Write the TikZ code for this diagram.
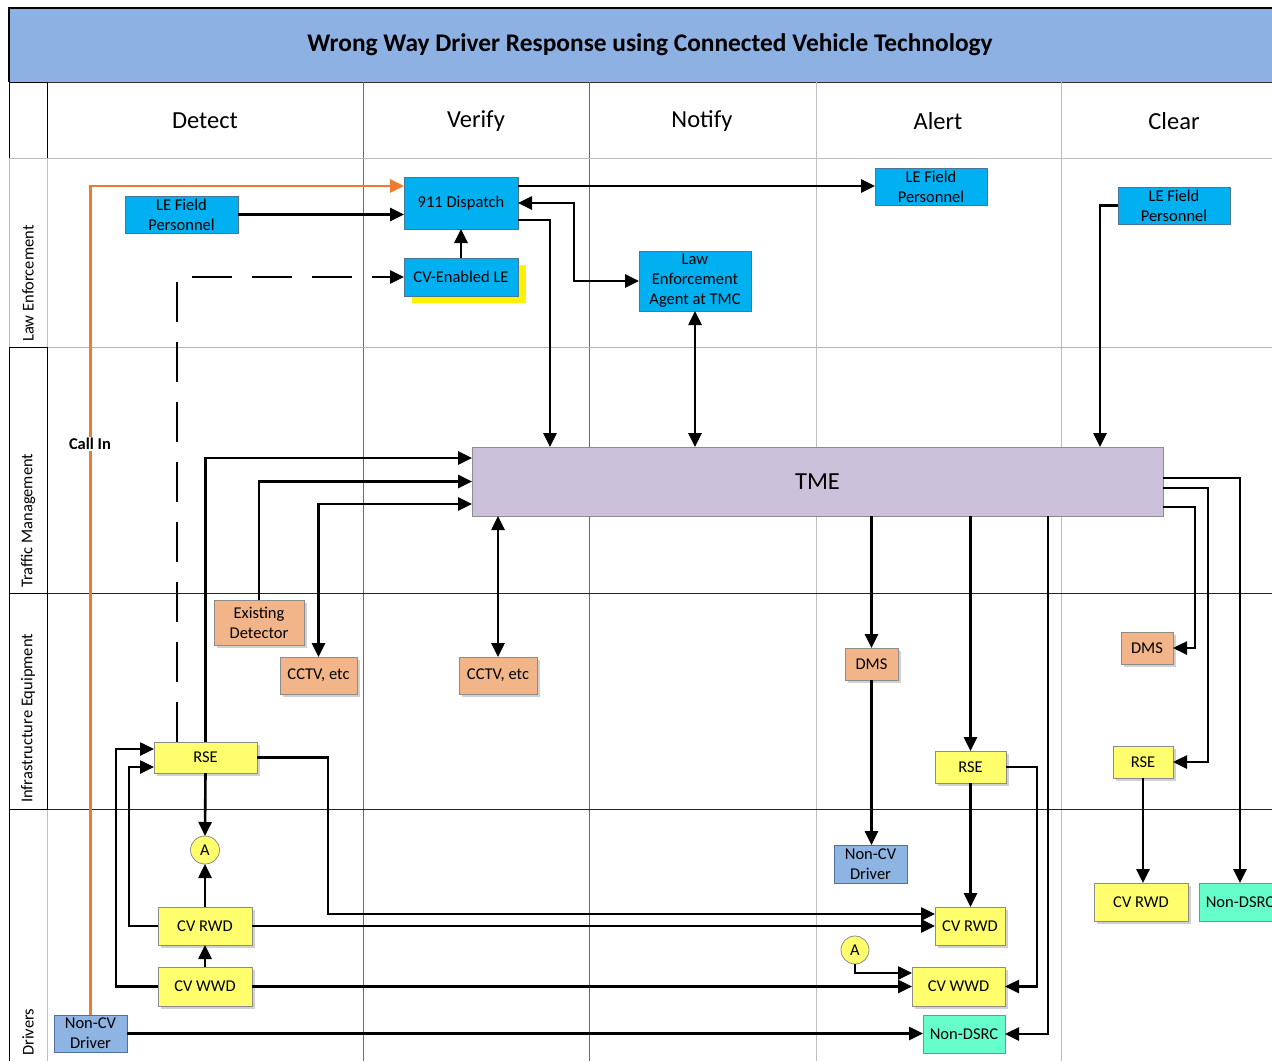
\documentclass[tikz,border=0pt]{standalone}
\usepackage{fontspec}
\setmainfont{Carlito}
\usetikzlibrary{arrows.meta,calc,shadows,shapes.geometric}

\definecolor{titleblue}{HTML}{8EB1E4}
\definecolor{lecyan}{HTML}{00B0F0}
\definecolor{leline}{HTML}{4A7696}
\definecolor{peach}{HTML}{F2B58A}
\definecolor{rseyellow}{HTML}{FFFF6E}
\definecolor{drvblue}{HTML}{8DB4E2}
\definecolor{drvline}{HTML}{4F6F9F}
\definecolor{aqua}{HTML}{66FFCC}
\definecolor{tmefill}{HTML}{CCC1DA}
\definecolor{callorange}{HTML}{EC7C30}
\definecolor{boxline}{HTML}{8C8C8C}
\definecolor{lightrule}{HTML}{BDBDBD}
\definecolor{darkrule}{HTML}{6A6A6A}
\definecolor{bluerule}{HTML}{A9B9CF}

\newcommand{\boxtext}{\fontsize{16.5pt}{20pt}\selectfont}
\newcommand{\headtext}{\fontsize{24.5pt}{29pt}\selectfont}

\begin{document}
\begin{tikzpicture}[x=1pt, y=-1pt,
  box/.style={draw=boxline, line width=0.8pt, inner sep=0pt, outer sep=0pt,
              align=center, font=\boxtext, text=black},
  boxshade/.style={drop shadow={shadow xshift=2.5pt, shadow yshift=-2.5pt,
              fill=black, opacity=.18}},
  lebox/.style={box, fill=lecyan, draw=leline},
  eqbox/.style={box, fill=peach, boxshade},
  ylbox/.style={box, fill=rseyellow, boxshade},
  drvbox/.style={box, fill=drvblue, draw=drvline},
  dsrcbox/.style={box, fill=aqua},
  offpage/.style={box, ellipse, fill=rseyellow},
  lanelabel/.style={rotate=90, anchor=west, inner sep=0pt, font=\boxtext},
  head/.style={font=\headtext},
  flow/.style={line width=2.6pt, -{Triangle[length=14pt,width=13pt]}},
  flow2/.style={line width=2.6pt,
              {Triangle[length=14pt,width=13pt]}-{Triangle[length=14pt,width=13pt]}},
]
\useasboundingbox (0,0) rectangle (1272,1061);
\clip (0,0) rectangle (1272,1061);

% ---------- swimlane frame ----------
\fill[titleblue] (9,8) rectangle (1290,82);
\draw[line width=1.3pt] (1290,8) -- (9,8) -- (9,82);
\draw[line width=1pt, black!80] (9,82) -- (1290,82);
\node[font=\bfseries\fontsize{25.4pt}{30pt}\selectfont] (title) at (650,45)
  {Wrong Way Driver Response using Connected Vehicle Technology};

% phase columns
\draw[lightrule, line width=0.9pt] (47,82) -- (47,1061);
\draw[darkrule, line width=0.9pt] (363,82) -- (363,1061);
\draw[darkrule, line width=0.9pt] (589,82) -- (589,1061);
\draw[lightrule, line width=0.9pt] (816,82) -- (816,1061);
\draw[lightrule, line width=0.9pt] (1061,82) -- (1061,1061);

% lane separators
\draw[lightrule, line width=0.9pt] (9,158) -- (1272,158);
\draw[bluerule, line width=0.9pt] (47,347) -- (1272,347);
\draw[black!85, line width=1pt] (9,593) -- (1272,593);
\draw[black!85, line width=1pt] (9,809) -- (1272,809);

% lane label cells
\draw[black, line width=1pt] (9,82) rectangle (47,158);
\draw[lightrule, line width=0.9pt] (9,158) rectangle (47,347);
\draw[black, line width=1pt] (9,347) rectangle (47,593);
\draw[black, line width=1pt] (9,593) rectangle (47,809);
\draw[black, line width=1pt] (9,809) -- (9,1061);

\node[lanelabel] (laneLE) at (28,342) {Law Enforcement};
\node[lanelabel] (laneTM) at (28,588) {Traffic Management};
\node[lanelabel] (laneIE) at (28,803) {Infrastructure Equipment};
\node[lanelabel] (laneDR) at (28,1056) {Drivers};

% phase headers
\node[head] (hDetect) at (205,121) {Detect};
\node[head] (hVerify) at (476,121) {Verify};
\node[head] (hNotify) at (702,121) {Notify};
\node[head] (hAlert)  at (938,121) {Alert};
\node[head] (hClear)  at (1174,121) {Clear};

% ---------- law enforcement ----------
\node[lebox, minimum width=113, minimum height=37] (leDetect) at (181.5,214.5) {LE Field\\Personnel};
\node[lebox, minimum width=114, minimum height=52] (dispatch) at (461,203) {911 Dispatch};
\node[lebox, minimum width=114, minimum height=38,
      drop shadow={shadow xshift=7.5pt, shadow yshift=-6.5pt, fill=yellow, opacity=1}]
      (cvle) at (461,277) {CV-Enabled LE};
\node[lebox, minimum width=112, minimum height=37] (leAlert) at (931,186.5) {LE Field\\Personnel};
\node[lebox, minimum width=112, minimum height=60] (lea) at (695,281) {Law\\Enforcement\\Agent at TMC};
\node[lebox, minimum width=112, minimum height=37] (leClear) at (1174,205.5) {LE Field\\Personnel};

% ---------- traffic management ----------
\node[box, fill=tmefill, minimum width=691, minimum height=69, font=\headtext] (tme) at (817.5,481.5) {TME};

% ---------- infrastructure equipment ----------
\node[eqbox, minimum width=90, minimum height=45] (det) at (259,622.5) {Existing\\Detector};
\node[eqbox, minimum width=77, minimum height=37] (cctvA) at (318.5,675.5) {CCTV, etc};
\node[eqbox, minimum width=78, minimum height=37] (cctvB) at (498,675.5) {CCTV, etc};
\node[eqbox, minimum width=53, minimum height=32] (dmsA) at (871.5,664) {DMS};
\node[eqbox, minimum width=52, minimum height=32] (dmsC) at (1147,648) {DMS};
\node[ylbox, minimum width=103, minimum height=31] (rseD) at (205.5,757.5) {RSE};
\node[ylbox, minimum width=71, minimum height=32] (rseA) at (970.5,767) {RSE};
\node[ylbox, minimum width=60, minimum height=32] (rseC) at (1143,762) {RSE};

% ---------- drivers ----------
\node[offpage, minimum width=29, minimum height=28] (aD) at (205,850) {A};
\node[ylbox, minimum width=94, minimum height=38] (rwdD) at (205,926) {CV RWD};
\node[ylbox, minimum width=94, minimum height=39] (wwdD) at (205,986.5) {CV WWD};
\node[drvbox, minimum width=73, minimum height=37] (noncvD) at (90.5,1033.5) {Non-CV\\Driver};
\node[drvbox, minimum width=73, minimum height=38] (noncvA) at (870.5,864) {Non-CV\\Driver};
\node[ylbox, minimum width=70, minimum height=38] (rwdA) at (970,926) {CV RWD};
\node[offpage, minimum width=28, minimum height=28] (aA) at (855,950) {A};
\node[ylbox, minimum width=93, minimum height=39] (wwdA) at (958.5,986.5) {CV WWD};
\node[dsrcbox, minimum width=82, minimum height=38] (dsrcA) at (964,1034) {Non-DSRC};
\node[ylbox, minimum width=94, minimum height=38] (rwdC) at (1141,902) {CV RWD};
\node[dsrcbox, minimum width=82, minimum height=38] (dsrcC) at (1240,902) {Non-DSRC};

% ---------- connectors ----------
% call-in from a driver without connected vehicle equipment
\draw[flow, callorange] (noncvD.north) |- ([yshift=17pt]dispatch.west);
\node[fill=white, inner sep=1.5pt, font=\bfseries\boxtext] (callin) at (90,444) {Call In};

\draw[flow] (leDetect.east) -- (leDetect.east -| dispatch.west);
\draw[flow] (cvle.north) -- (dispatch.south);
\draw[flow, dash pattern=on 40pt off 20pt] ([xshift=-28.5pt]rseD.north) |- (cvle.west);
\draw[flow] ([yshift=17pt]dispatch.east) -- ([yshift=17pt]dispatch.east -| leAlert.west);
\draw[flow2] (dispatch.east) -- ++(56,0) |- (lea.west);
\draw[flow] ([yshift=-17pt]dispatch.east) -| ([xshift=78pt]tme.north west);
\draw[flow2] (lea.south) -- (lea.south |- tme.north);
\draw[flow] (leClear.west) -| ([xshift=-63pt]tme.north east);

% into the TME
\draw[flow] (rseD.north) |- ([yshift=23.5pt]tme.west);
\draw[flow] (det.north) |- (tme.west);
\draw[flow2] ([yshift=-22.5pt]tme.west) -| (cctvA.north);
\draw[flow2] (cctvB.north |- tme.south) -- (cctvB.north);

% from the TME, alert phase
\draw[flow] (dmsA.north |- tme.south) -- (dmsA.north);
\draw[flow] (dmsA.south) -- (dmsA.south |- noncvA.north);
\draw[flow] (rseA.north |- tme.south) -- (rseA.north);
\draw[flow] (rseA.south) -- (rseA.south |- rwdA.north);
\draw[flow] (rseA.east) -- ++(31,0) |- (wwdA.east);
\draw[flow] ([xshift=-115pt]tme.south east) |- (dsrcA.east);
\draw[flow] (aA.south) |- ([yshift=13.5pt]wwdA.west);

% from the TME, clear phase
\draw[flow] ([yshift=3.5pt]tme.east) -| (dsrcC.north);
\draw[flow] ([yshift=-6.5pt]tme.east) -- ++(45,0) |- (rseC.east);
\draw[flow] ([yshift=-25.5pt]tme.east) -- ++(32,0) |- (dmsC.east);
\draw[flow] (rseC.south) -- (rseC.south |- rwdC.north);

% detect phase, vehicle side
\draw[flow] (rseD.south) -- (aD.north);
\draw[flow] (rwdD.north) -- (aD.south);
\draw[flow] (wwdD.north) -- (rwdD.south);
\draw[flow] (rwdD.west) -- ++(-29,0) |- ([yshift=-9.5pt]rseD.west);
\draw[flow] (wwdD.west) -- ++(-42,0) |- ([yshift=8.5pt]rseD.west);
\draw[flow] (rseD.east) -- ++(71,0) |- ([yshift=12pt]rwdA.west);
\draw[flow] (rwdD.east) -- (rwdA.west);
\draw[flow] (wwdD.east) -- (wwdA.west);
\draw[flow] (noncvD.east) -- (noncvD.east -| dsrcA.west);
\end{tikzpicture}
\end{document}
